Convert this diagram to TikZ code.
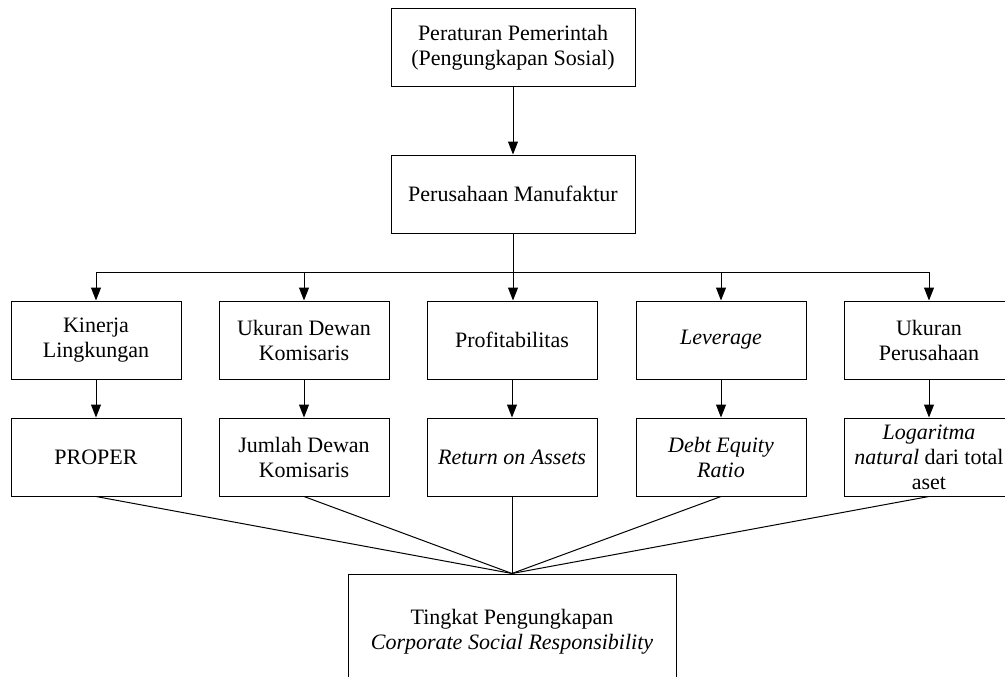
\documentclass[tikz,border=0pt]{standalone}
\usepackage{fontspec}
\setmainfont{Liberation Serif}
\usetikzlibrary{arrows.meta}
\tikzset{
  box/.style={draw, line width=1pt, minimum width=170pt, minimum height=78pt, align=center, inner sep=2pt, font=\fontsize{22}{25}\selectfont},
  widebox/.style={box, minimum width=244pt},
  arr/.style={line width=1pt, -{Triangle[width=10pt,length=13pt]}},
  ln/.style={line width=1pt}
}
\begin{document}
\begin{tikzpicture}[x=1pt,y=-1pt]
\clip (0,0) rectangle (1005,677);
\node[widebox] (top) at (513,48) {Peraturan Pemerintah\\(Pengungkapan Sosial)};
\node[widebox] (mid) at (513,194) {Perusahaan Manufaktur};
\coordinate (bus) at (513,272);

\node[box] (a1) at (96,340) {Kinerja\\Lingkungan};
\node[box] (b1) at (304,340) {Ukuran Dewan\\Komisaris};
\node[box] (c1) at (512,340) {Profitabilitas};
\node[box] (d1) at (721,340) {\textit{Leverage}};
\node[box] (e1) at (929,340) {Ukuran\\Perusahaan};

\node[box] (a2) at (96,457) {PROPER};
\node[box] (b2) at (304,457) {Jumlah Dewan\\Komisaris};
\node[box] (c2) at (512,457) {\textit{Return on Assets}};
\node[box] (d2) at (721,457) {\textit{Debt Equity}\\\textit{Ratio}};
\node[box] (e2) at (929,457) {\textit{Logaritma}\\\textit{natural} dari total\\aset};

\node[box, minimum width=328pt, minimum height=116pt] (res) at (512,632) {Tingkat Pengungkapan\\\textit{Corporate Social Responsibility}};

\draw[arr] (top) -- (mid);
\draw[arr] (mid.south) -- (mid.south |- c1.north);
\draw[arr] (bus) -| (a1.north);
\draw[arr] (bus) -| (b1.north);
\draw[arr] (bus) -| (d1.north);
\draw[arr] (bus) -| (e1.north);

\draw[arr] (a1) -- (a2);
\draw[arr] (b1) -- (b2);
\draw[arr] (c1) -- (c2);
\draw[arr] (d1) -- (d2);
\draw[arr] (e1) -- (e2);

\draw[ln] (a2.south) -- (res.north);
\draw[ln] (b2.south) -- (res.north);
\draw[ln] (c2.south) -- (res.north);
\draw[ln] (d2.south) -- (res.north);
\draw[ln] (e2.south) -- (res.north);
\end{tikzpicture}
\end{document}
